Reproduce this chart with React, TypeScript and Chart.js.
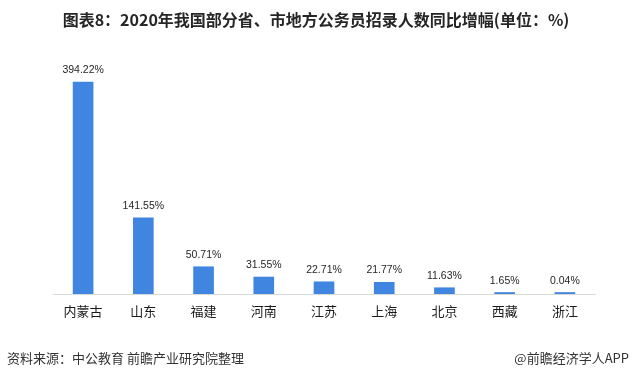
import React, { useEffect, useRef } from "react";
import { Chart, registerables } from "chart.js";

Chart.register(...registerables);

const categories = ["内蒙古", "山东", "福建", "河南", "江苏", "上海", "北京", "西藏", "浙江"];
const growth = [394.22, 141.55, 50.71, 31.55, 22.71, 21.77, 11.63, 1.65, 0.04];
const valueLabels = ["394.22%", "141.55%", "50.71%", "31.55%", "22.71%", "21.77%", "11.63%", "1.65%", "0.04%"];
const titleText = "图表8：2020年我国部分省、市地方公务员招录人数同比增幅(单位：%)";
const sourceText = "资料来源：中公教育 前瞻产业研究院整理";
const brandText = "@前瞻经济学人APP";

const CJK = '"Noto Sans CJK SC", "Microsoft YaHei", sans-serif';

const textPlugin = {
  id: "textPlugin",
  afterDatasetsDraw(chart: any) {
    const ctx = chart.ctx;
    ctx.save();
    // value labels
    const meta = chart.getDatasetMeta(0);
    ctx.font = '10.5px "Liberation Sans", Arial, sans-serif';
    ctx.fillStyle = "#262626";
    ctx.textAlign = "center";
    ctx.textBaseline = "alphabetic";
    meta.data.forEach((bar: any, i: number) => {
      ctx.fillText(valueLabels[i], bar.x, bar.y - 9);
    });
    // title
    ctx.font = "bold 16px " + CJK;
    ctx.fillStyle = "#262626";
    ctx.textBaseline = "middle";
    ctx.fillText(titleText, 316, 19.5);
    // footer
    ctx.font = "13px " + CJK;
    ctx.fillStyle = "#333333";
    ctx.textAlign = "left";
    ctx.fillText(sourceText, 7, 358);
    ctx.textAlign = "right";
    ctx.fillText(brandText, 629, 358);
    ctx.restore();
  },
};

export default function App() {
  const ref = useRef<HTMLCanvasElement>(null);
  useEffect(() => {
    document.body.style.margin = "0";
    const chart = new Chart(ref.current as HTMLCanvasElement, {
      type: "bar",
      data: {
        labels: categories,
        datasets: [
          {
            data: growth,
            backgroundColor: "#4086E0",
            barThickness: 20,
            minBarLength: 1.5,
          },
        ],
      },
      options: {
        responsive: false,
        animation: false,
        devicePixelRatio: 1,
        layout: { padding: { left: 53, right: 38, top: 79, bottom: 56 } },
        plugins: { legend: { display: false }, tooltip: { enabled: false }, title: { display: false } },
        scales: {
          x: {
            grid: { display: false, drawTicks: false },
            border: { display: true, color: "#D9D9D9", width: 1 },
            ticks: {
              color: "#1a1a1a",
              font: { size: 13, family: CJK },
              padding: 9,
              maxRotation: 0,
            },
            afterFit(scale: any) {
              scale.height = 30;
            },
          },
          y: {
            display: false,
            min: 0,
            max: 400,
          },
        },
      },
      plugins: [textPlugin],
    });
    return () => chart.destroy();
  }, []);
  return (
    <div style={{ position: "fixed", left: 0, top: 0, width: 633, height: 380, background: "#fff" }}>
      <canvas ref={ref} width={633} height={380} />
    </div>
  );
}
